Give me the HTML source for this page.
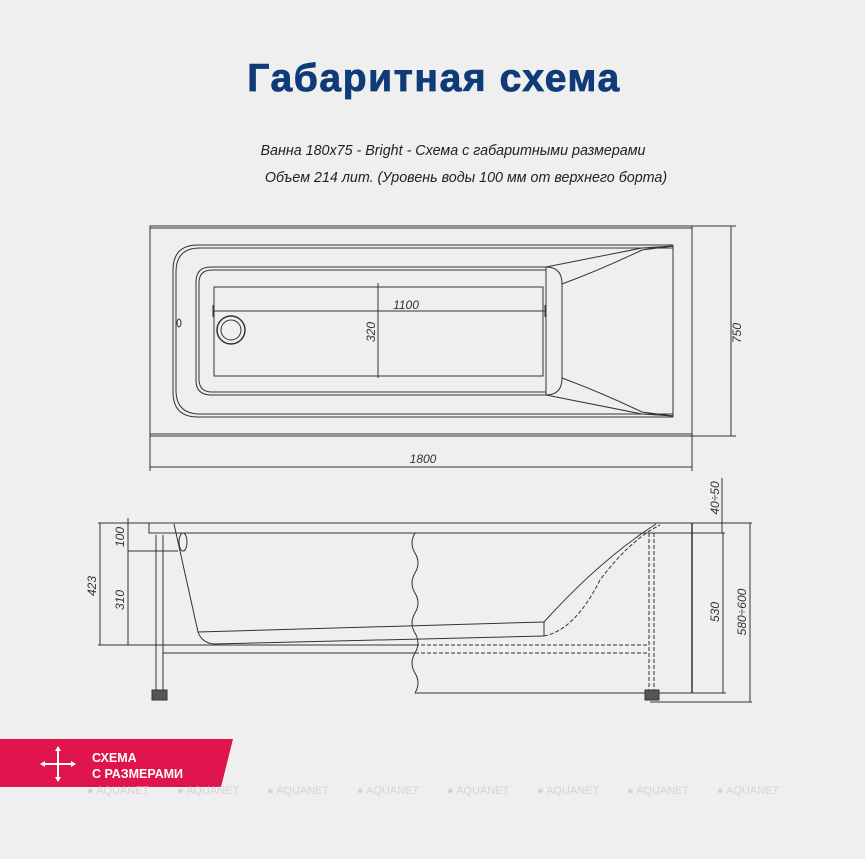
<!DOCTYPE html>
<html><head><meta charset="utf-8"><style>
html,body{margin:0;padding:0;background:#efefef;}
body{width:865px;height:859px;overflow:hidden;position:relative;font-family:"Liberation Sans",sans-serif;}
</style></head><body>
<svg width="865" height="859" viewBox="0 0 865 859" xmlns="http://www.w3.org/2000/svg" style="position:absolute;left:0;top:0">
<rect width="865" height="859" fill="#efefef"/>
<text x="434" y="91" text-anchor="middle" font-family="Liberation Sans, DejaVu Sans, sans-serif" font-weight="bold" font-size="39" letter-spacing="1.6" fill="#0f3b78" stroke="#0f3b78" stroke-width="0.8">Габаритная схема</text>
<g font-family="Liberation Sans, sans-serif" font-style="italic" font-size="14.3" fill="#222">
<text x="453" y="155" text-anchor="middle">Ванна 180x75 - Bright - Схема с габаритными размерами</text>
<text x="466" y="182" text-anchor="middle">Объем 214 лит. (Уровень воды 100 мм от верхнего борта)</text>
</g>
<g fill="none" stroke="#333" stroke-width="1">
<rect x="150" y="226" width="542" height="210"/>
<line x1="150" y1="228" x2="692" y2="228"/>
<line x1="150" y1="434" x2="692" y2="434"/>
<path d="M673,245 H198 Q173,245 173,270 V392 Q173,417 198,417 H673"/>
<path d="M673,248 H200 Q176,248 176,272 V390 Q176,414 200,414 H673"/>
<path d="M546,267 H211 Q196,267 196,282 V380 Q196,395 211,395 H546"/>
<path d="M546,270 H212 Q199,270 199,283 V379 Q199,392 212,392 H546"/>
<path d="M546,267 Q562,267 562,284 V378 Q562,395 546,395"/>
<line x1="546" y1="267" x2="546" y2="395"/>
<rect x="214" y="287" width="329" height="89"/>
<line x1="673" y1="245" x2="673" y2="417"/>
<path d="M546,267 L642,248 L673,246"/>
<path d="M562,284 Q600,270 642,250 L673,246"/>
<path d="M546,395 L642,414 L673,416"/>
<path d="M562,378 Q600,392 642,412 L673,416"/>
<circle cx="231" cy="330" r="14" stroke-width="1.5"/>
<circle cx="231" cy="330" r="10"/>
<ellipse cx="179" cy="323" rx="2" ry="4"/>
<line x1="213" y1="311" x2="545" y2="311"/>
<line x1="213" y1="305" x2="213" y2="317"/>
<line x1="545" y1="305" x2="545" y2="317"/>
<line x1="378" y1="283" x2="378" y2="378"/>
<line x1="150" y1="436" x2="150" y2="471"/>
<line x1="692" y1="436" x2="692" y2="471"/>
<line x1="150" y1="467" x2="692" y2="467"/>
<line x1="692" y1="226" x2="736" y2="226"/>
<line x1="692" y1="436" x2="736" y2="436"/>
<line x1="731" y1="226" x2="731" y2="436"/>
<rect x="149" y="523" width="543" height="10"/>
<line x1="98" y1="523" x2="752" y2="523"/>
<line x1="415" y1="533" x2="725" y2="533"/>
<path d="M174,524 L198,632 Q202,643 214,644"/>
<path d="M198,632 L544,622"/>
<path d="M214,644 L544,636"/>
<path d="M544,622 Q600,560 656,524"/>
<path d="M544,636 Q575,630 600,580 Q630,540 660,525" stroke-dasharray="4,2"/>
<line x1="544" y1="622" x2="544" y2="636"/>
<ellipse cx="183" cy="542" rx="4" ry="9"/>
<path d="M415,533 q-6,10 0,20 q6,10 0,20 q-6,10 0,20 q6,10 0,20 q-6,10 0,20 q6,10 0,20 q-6,10 0,20 q6,10 0,20"/>
<line x1="415" y1="693" x2="692" y2="693"/>
<line x1="692" y1="523" x2="692" y2="693" stroke-width="1.5"/>
<line x1="156" y1="535" x2="156" y2="690"/>
<line x1="163" y1="535" x2="163" y2="690"/>
<rect x="152" y="690" width="15" height="10" fill="#555"/>
<line x1="649" y1="533" x2="649" y2="690" stroke-dasharray="4,2"/>
<line x1="654" y1="533" x2="654" y2="690" stroke-dasharray="4,2"/>
<rect x="645" y="690" width="14" height="10" fill="#555"/>
<line x1="163" y1="645" x2="415" y2="645"/>
<line x1="163" y1="653" x2="415" y2="653"/>
<line x1="415" y1="645" x2="649" y2="645" stroke-dasharray="4,2"/>
<line x1="415" y1="653" x2="649" y2="653" stroke-dasharray="4,2"/>
<line x1="98" y1="645" x2="214" y2="645"/>
<line x1="100" y1="523" x2="100" y2="645"/>
<line x1="128" y1="518" x2="128" y2="645"/>
<line x1="128" y1="551" x2="178" y2="551"/>
<line x1="722" y1="478" x2="722" y2="533"/>
<line x1="723" y1="533" x2="723" y2="693"/>
<line x1="692" y1="693" x2="726" y2="693"/>
<line x1="750" y1="523" x2="750" y2="702"/>
<line x1="650" y1="702" x2="752" y2="702"/>
</g>
<g font-family="Liberation Sans, sans-serif" font-style="italic" font-size="12" fill="#333">
<text x="406" y="309" text-anchor="middle">1100</text>
<text transform="translate(375,332) rotate(-90)" text-anchor="middle">320</text>
<text x="423" y="463" text-anchor="middle">1800</text>
<text transform="translate(741,333) rotate(-90)" text-anchor="middle">750</text>
<text transform="translate(96,586) rotate(-90)" text-anchor="middle">423</text>
<text transform="translate(124,537) rotate(-90)" text-anchor="middle">100</text>
<text transform="translate(124,600) rotate(-90)" text-anchor="middle">310</text>
<text transform="translate(719,498) rotate(-90)" text-anchor="middle">40÷50</text>
<text transform="translate(719,612) rotate(-90)" text-anchor="middle">530</text>
<text transform="translate(746,612) rotate(-90)" text-anchor="middle">580÷600</text>
</g>
<polygon points="0,739 233,739 221,787 0,787" fill="#e0144c"/>
<g stroke="#fff" stroke-width="2" fill="#fff">
<line x1="43" y1="764" x2="73" y2="764"/>
<line x1="58" y1="749" x2="58" y2="779"/>
<polygon points="40,764 45,761 45,767" stroke="none"/>
<polygon points="76,764 71,761 71,767" stroke="none"/>
<polygon points="58,746 55,751 61,751" stroke="none"/>
<polygon points="58,782 55,777 61,777" stroke="none"/>
</g>
<g font-family="Liberation Sans, sans-serif" font-weight="bold" font-size="12.5" fill="#fff">
<text x="92" y="762">СХЕМА</text>
<text x="92" y="778">С РАЗМЕРАМИ</text>
</g>
<g font-family="Liberation Sans, sans-serif" font-size="11" fill="#d4d4d4">
<text x="87" y="794">● AQUANET</text>
<text x="177" y="794">● AQUANET</text>
<text x="267" y="794">● AQUANET</text>
<text x="357" y="794">● AQUANET</text>
<text x="447" y="794">● AQUANET</text>
<text x="537" y="794">● AQUANET</text>
<text x="627" y="794">● AQUANET</text>
<text x="717" y="794">● AQUANET</text>
</g>
</svg>
</body></html>
